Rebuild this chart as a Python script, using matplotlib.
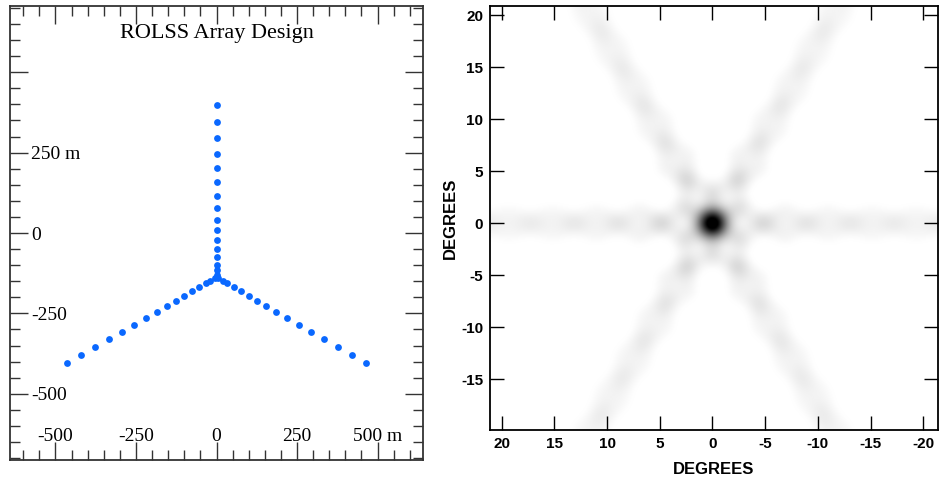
import numpy as np
import matplotlib
matplotlib.use("Agg")
import matplotlib.pyplot as plt
from matplotlib.ticker import MultipleLocator
from matplotlib.colors import PowerNorm

plt.rcParams["axes.unicode_minus"] = False

# ---- data ----
arm_dist_m = [7, 22, 38, 62, 87, 115, 146, 179, 215, 254, 296, 339, 385, 434, 484, 535]
arm_angles_deg = [90, 210, 330]
hub_y_m = -138
wavelength_m = 34.0

array_xticks = [-500, -250, 0, 250, 500]
array_xticklabels = ["-500", "-250", "0", "250", "500 m"]
array_yticks = [-500, -250, 0, 250, 500]
array_yticklabels = ["-500", "-250", "0", "250 m", ""]

beam_xticks = [20, 15, 10, 5, 0, -5, -10, -15, -20]
beam_yticks = [-15, -10, -5, 0, 5, 10, 15, 20]
beam_xlim = (21.1, -21.4)
beam_ylim = (-19.9, 20.9)

# antenna positions
ant_x, ant_y = [], []
for a in arm_angles_deg:
    for d in arm_dist_m:
        ant_x.append(d * np.cos(np.radians(a)))
        ant_y.append(hub_y_m + d * np.sin(np.radians(a)))
ant_x = np.array(ant_x)
ant_y = np.array(ant_y)

# synthesized beam |B|^2 from the antenna positions
nx, ny = 450, 425
lx = np.linspace(beam_xlim[0], beam_xlim[1], nx)
my = np.linspace(beam_ylim[1], beam_ylim[0], ny)
L, M = np.meshgrid(np.sin(np.radians(lx)), np.sin(np.radians(my)))
B = np.zeros(L.shape, dtype=complex)
k = 2 * np.pi / wavelength_m
for xa, ya in zip(ant_x, ant_y):
    B += np.exp(1j * k * (xa * L + ya * M))
P = np.abs(B) ** 2 / len(ant_x) ** 2

fig = plt.figure(figsize=(9.39, 4.78), dpi=100)

# ---- left panel ----
serif = "Liberation Serif"
ax1 = fig.add_axes([10 / 939, 18 / 478, 413 / 939, 454 / 478])
ax1.plot(ant_x, ant_y, "o", color="#0a68ff", markersize=4.9, markeredgewidth=0)
ax1.set_xlim(-641, 641)
ax1.set_ylim(-706, 706)
ax1.set_xticks(array_xticks, labels=array_xticklabels)
ax1.set_yticks(array_yticks, labels=array_yticklabels)
ax1.xaxis.set_minor_locator(MultipleLocator(50))
ax1.yaxis.set_minor_locator(MultipleLocator(50))
ax1.tick_params(which="both", direction="in", top=True, right=True, color="#333333", width=1.0)
ax1.tick_params(which="major", length=13)
ax1.tick_params(which="minor", length=7)
ax1.tick_params(axis="x", pad=-23, labelsize=14, labelfontfamily=serif)
ax1.tick_params(axis="y", pad=-15, labelsize=14, labelfontfamily=serif)
for lbl in ax1.get_yticklabels():
    lbl.set_horizontalalignment("left")
for s in ax1.spines.values():
    s.set_linewidth(1.3)
    s.set_color("#333333")
ax1.text(0, 621, "ROLSS Array Design", ha="center", va="center",
         fontsize=16, family=serif)

# ---- right panel ----
ax2 = fig.add_axes([490 / 939, 48 / 478, 448 / 939, 424 / 478])
ax2.imshow(P, cmap="gray_r", norm=PowerNorm(gamma=1.2, vmin=0.04, vmax=0.9),
           interpolation="bicubic",
           extent=[beam_xlim[0], beam_xlim[1], beam_ylim[0], beam_ylim[1]], aspect="auto")
ax2.set_xlim(*beam_xlim)
ax2.set_ylim(*beam_ylim)
ax2.set_xticks(beam_xticks)
ax2.set_yticks(beam_yticks)
ax2.tick_params(direction="in", top=True, right=True, length=10, width=1.0,
                labelsize=11, pad=5)
for lbl in ax2.get_xticklabels() + ax2.get_yticklabels():
    lbl.set_fontweight("bold")
    lbl.set_family("Liberation Sans")
ax2.set_xlabel("DEGREES", fontsize=12, fontweight="bold", family="Liberation Sans", labelpad=8)
ax2.set_ylabel("DEGREES", fontsize=12, fontweight="bold", family="Liberation Sans", labelpad=2)
for s in ax2.spines.values():
    s.set_linewidth(1.3)

fig.savefig("out.png", dpi=100)
